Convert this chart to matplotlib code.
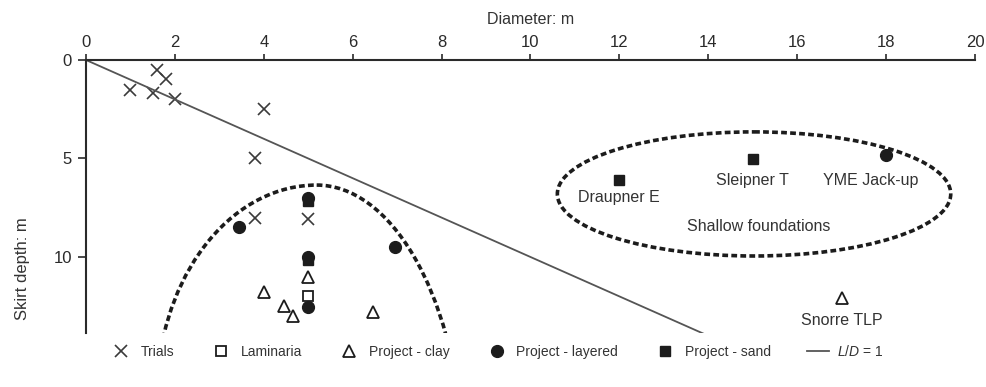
import numpy as np
import matplotlib
matplotlib.use("Agg")
import matplotlib.pyplot as plt
from matplotlib.patches import Ellipse, Arc

plt.rcParams.update({
    "font.family": ["Liberation Sans", "DejaVu Sans"],
    "mathtext.fontset": "custom",
    "mathtext.it": "Liberation Sans:italic",
    "mathtext.rm": "Liberation Sans",
})

INK = '#1c1c1c'
TXT = '#333333'

# diameter (m), skirt depth (m)
trials_d = [1.6, 1.8, 1.0, 1.5, 2.0, 4.0, 3.8, 3.8, 5.0]
trials_z = [0.5, 0.95, 1.5, 1.7, 2.0, 2.5, 5.0, 8.0, 8.05]

laminaria_d = [5.0]
laminaria_z = [12.0]

clay_d = [5.0, 4.0, 4.45, 4.65, 6.45, 17.0]
clay_z = [11.0, 11.8, 12.5, 13.0, 12.8, 12.1]

layered_d = [3.45, 5.0, 5.0, 5.0, 6.95, 18.0]
layered_z = [8.5, 7.0, 10.0, 12.55, 9.5, 4.8]

sand_d = [5.0, 5.0, 12.0, 15.0]
sand_z = [7.15, 10.15, 6.1, 5.05]

ld_d = [0, 13.9]
ld_z = [0, 13.9]

# field cases named on the plot
site_names = ['Draupner E', 'Sleipner T', 'YME Jack-up', 'Snorre TLP']
site_d = [12.0, 15.0, 17.65, 17.0]
site_z = [7.0, 6.1, 6.1, 13.2]

# envelope round the anchor projects: two elliptical arcs meeting at the crown
crown_d = 5.19
left_arc = dict(center=(crown_d, 17.15), width=7.2, height=21.6, theta1=198.6, theta2=270)
right_arc = dict(center=(crown_d, 20.75), width=6.6, height=28.8, theta1=270, theta2=331.1)

# group of shallow foundations
shallow_center = (15.03, 6.8)
shallow_size = (8.85, 6.3)

dash = (0, (1.6, 0.9))

fig = plt.figure(figsize=(9.87, 3.87), dpi=100)
ax = fig.add_axes([0.0871, 0.140, 0.9007, 0.705])

ax.plot(trials_d, trials_z, ls='none', marker='x', ms=8, mew=1.2, color='#3a3a3a', label='Trials')
ax.plot(laminaria_d, laminaria_z, ls='none', marker='s', ms=7, mew=1.3, mfc='white', mec=INK, label='Laminaria')
ax.plot(clay_d, clay_z, ls='none', marker='^', ms=8, mew=1.3, mfc='white', mec=INK, label='Project - clay')
ax.plot(layered_d, layered_z, ls='none', marker='o', ms=8.5, color=INK, label='Project - layered')
ax.plot(sand_d, sand_z, ls='none', marker='s', ms=7.5, color=INK, label='Project - sand')
ax.plot(ld_d, ld_z, color='#555555', lw=1.3, label=r'$\mathit{L/D}$ = 1')

for arc in (left_arc, right_arc):
    ax.add_patch(Arc(arc['center'], arc['width'], arc['height'], theta1=arc['theta1'],
                     theta2=arc['theta2'], ec=INK, lw=2.6, ls=dash))
ax.add_patch(Ellipse(shallow_center, shallow_size[0], shallow_size[1], fill=False,
                     ec=INK, lw=2.6, ls=dash))

for name, d, z in zip(site_names, site_d, site_z):
    ax.text(d, z, name, ha='center', va='center', fontsize=11.5, color=TXT)
ax.text(15.13, 8.45, 'Shallow foundations', ha='center', va='center', fontsize=11.5, color=TXT)

ax.set_xlim(0, 20)
ax.set_ylim(13.85, 0)
ax.set_xticks(np.arange(0, 21, 2))
ax.set_yticks([0, 5, 10])
ax.xaxis.tick_top()
ax.xaxis.set_label_position('top')
ax.set_xlabel('Diameter: m', fontsize=11.5, color=TXT, labelpad=8)
ax.set_ylabel('Skirt depth: m', fontsize=12, color=TXT)
ax.yaxis.set_label_coords(-0.063, 0.234)

for side in ['right', 'bottom']:
    ax.spines[side].set_visible(False)
for side in ['left', 'top']:
    ax.spines[side].set_linewidth(1.5)
    ax.spines[side].set_color('#2a2a2a')
ax.tick_params(axis='x', direction='out', length=4, width=1.2, pad=3, labelsize=12, colors='#2a2a2a')
ax.tick_params(axis='y', direction='out', length=6, width=1.2, pad=4, labelsize=12, colors='#2a2a2a')

ax.legend(loc='upper center', bbox_to_anchor=(0.462, 0.005), ncol=6, frameon=False,
          fontsize=10, handlelength=1.6, handletextpad=0.6, columnspacing=2.6,
          labelcolor=TXT)

fig.savefig('out.png', dpi=100)
